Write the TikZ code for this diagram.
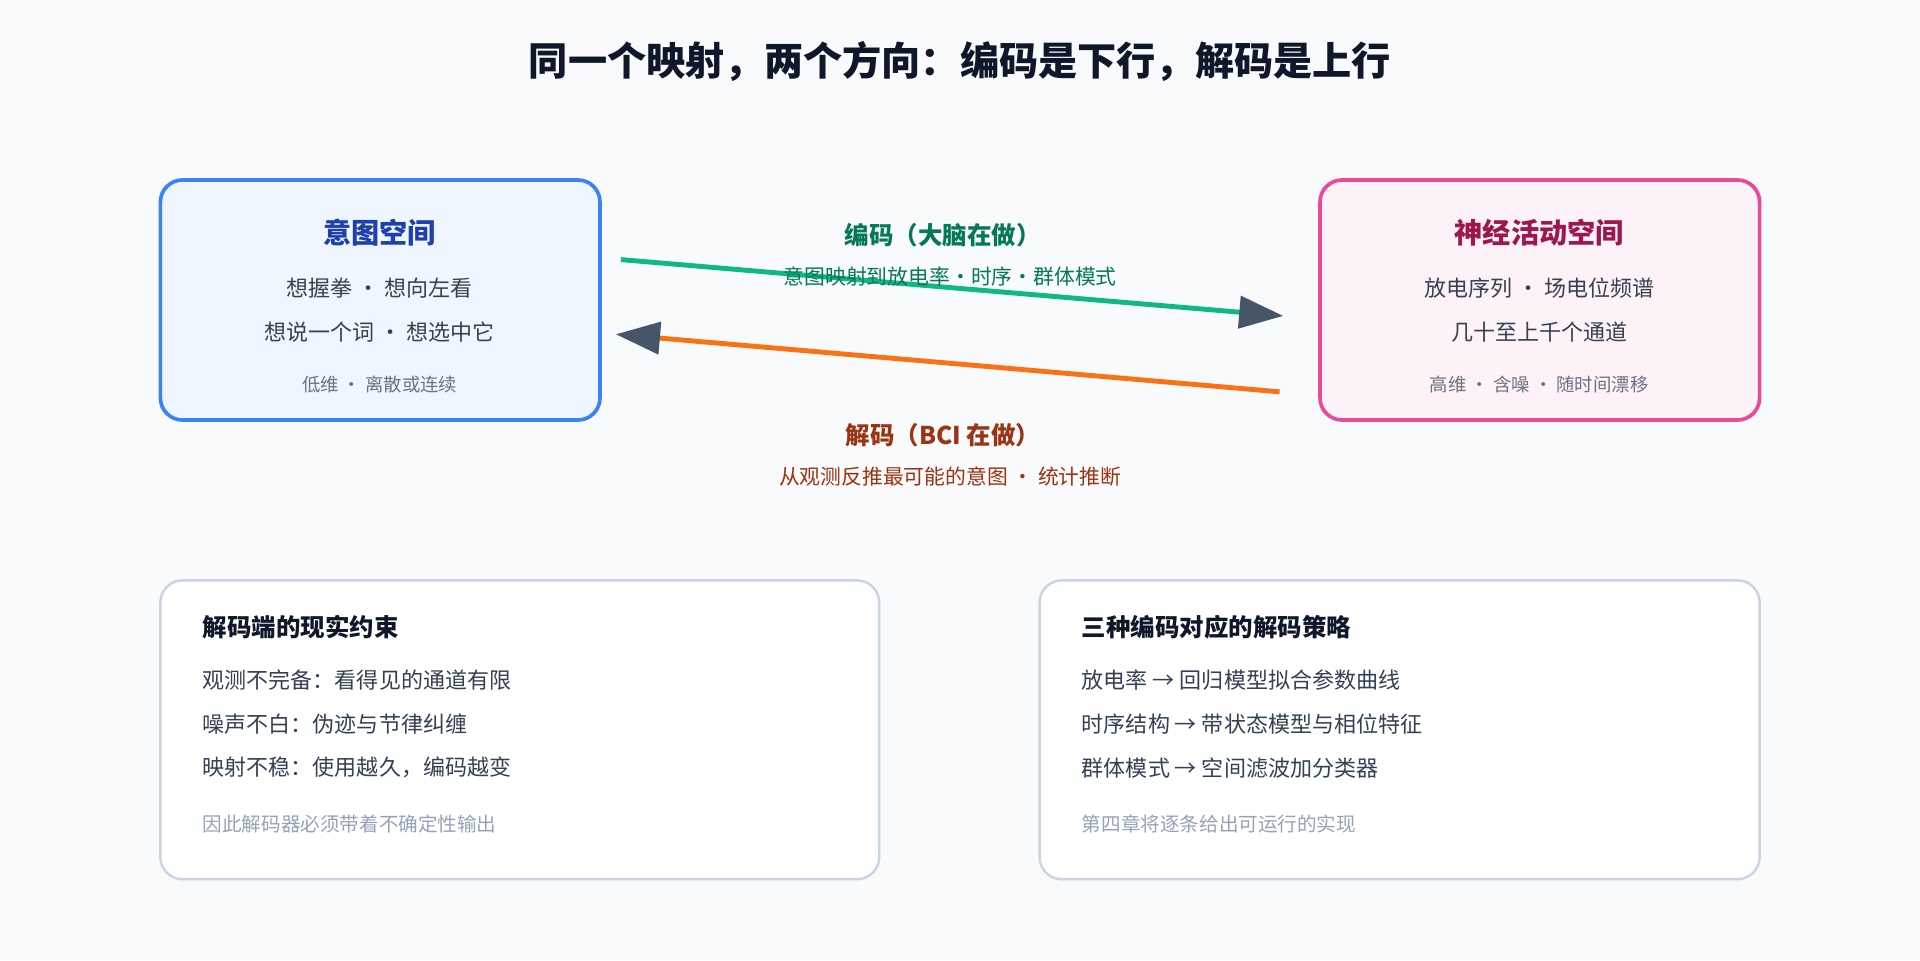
\documentclass[tikz,border=0pt]{standalone}
\usepackage{fontspec}
\setmainfont{Noto Sans CJK SC}
\usetikzlibrary{arrows.meta}
\definecolor{bg}{HTML}{F8FAFC}
\definecolor{ttl}{HTML}{0F172A}
\definecolor{bluef}{HTML}{EFF6FF}\definecolor{blueb}{HTML}{3B82F6}\definecolor{bluet}{HTML}{1E40AF}
\definecolor{pinkf}{HTML}{FDF2F8}\definecolor{pinkb}{HTML}{EC4899}\definecolor{pinkt}{HTML}{9D174D}
\definecolor{txt}{HTML}{374151}\definecolor{sub}{HTML}{6B7280}
\definecolor{grn}{HTML}{10B981}\definecolor{grnt}{HTML}{047857}
\definecolor{org}{HTML}{F97316}\definecolor{orgt}{HTML}{9A3412}
\definecolor{head}{HTML}{475569}\definecolor{cardb}{HTML}{CBD5E1}
\definecolor{ct}{HTML}{334155}\definecolor{foot}{HTML}{94A3B8}
\begin{document}
\begin{tikzpicture}[x=1pt,y=-1pt,
  fs/.style={font=\fontsize{#1}{#1}\selectfont},
  box/.style={rounded corners=18pt,line width=3pt},
  card/.style={rounded corners=18pt,line width=2pt,draw=cardb,fill=white},
  arr/.style={line width=4pt,-{Triangle[length=36pt,width=26pt,color=head]}},
  lt/.style={anchor=west,fs=18,text=ct}]
\fill[bg] (0,0) rectangle (1568,784);
\node[fs=32,font=\bfseries,text=ttl] (title) at (784,50) {\fontsize{32}{32}\selectfont\bfseries 同一个映射，两个方向：编码是下行，解码是上行};
% left box
\draw[box,draw=blueb,fill=bluef] (131,147) rectangle (490,343);
\node[text=bluet] (lt1) at (310,190) {\fontsize{23}{23}\selectfont\bfseries 意图空间};
\node[fs=18,text=txt] (lt2) at (310,235) {想握拳 · 想向左看};
\node[fs=18,text=txt] (lt3) at (310,271) {想说一个词 · 想选中它};
\node[fs=15,text=sub] (lt4) at (310,314) {低维 · 离散或连续};
% right box
\draw[box,draw=pinkb,fill=pinkf] (1078,147) rectangle (1437,343);
\node[text=pinkt] (rt1) at (1257,190) {\fontsize{23}{23}\selectfont\bfseries 神经活动空间};
\node[fs=18,text=txt] (rt2) at (1257,235) {放电序列 · 场电位频谱};
\node[fs=18,text=txt] (rt3) at (1257,271) {几十至上千个通道};
\node[fs=15,text=sub] (rt4) at (1257,314) {高维 · 含噪 · 随时间漂移};
% arrows
\coordinate (e1) at (507,212); \coordinate (e2) at (1048,258);
\coordinate (d1) at (1045,320); \coordinate (d2) at (503,273);
\draw[arr,grn] (e1) -- (e2);
\draw[arr,org] (d1) -- (d2);
\node[text=grnt] (el) at (770,192) {\fontsize{20}{20}\selectfont\bfseries 编码（大脑在做）};
\node[fs=17,text=grnt] (es) at (776,226) {意图映射到放电率·时序·群体模式};
\node[text=orgt] (dl) at (770,355) {\fontsize{20}{20}\selectfont\bfseries 解码（BCI 在做）};
\node[fs=17,text=orgt] (ds) at (776,389) {从观测反推最可能的意图 · 统计推断};
% cards
\draw[card] (131,474) rectangle (718,718);
\node[anchor=west,text=ttl] (c1t) at (162,512) {\fontsize{20}{20}\selectfont\bfseries 解码端的现实约束};
\node[lt] (c1a) at (162,555) {观测不完备：看得见的通道有限};
\node[lt] (c1b) at (162,591) {噪声不白：伪迹与节律纠缠};
\node[lt] (c1c) at (162,627) {映射不稳：使用越久，编码越变};
\node[anchor=west,fs=16,text=foot] (c1f) at (162,673) {因此解码器必须带着不确定性输出};
\draw[card] (849,474) rectangle (1437,718);
\node[anchor=west,text=ttl] (c2t) at (880,512) {\fontsize{20}{20}\selectfont\bfseries 三种编码对应的解码策略};
\node[lt] (c2a) at (880,555) {放电率 → 回归模型拟合参数曲线};
\node[lt] (c2b) at (880,591) {时序结构 → 带状态模型与相位特征};
\node[lt] (c2c) at (880,627) {群体模式 → 空间滤波加分类器};
\node[anchor=west,fs=16,text=foot] (c2f) at (880,673) {第四章将逐条给出可运行的实现};
\end{tikzpicture}
\end{document}
